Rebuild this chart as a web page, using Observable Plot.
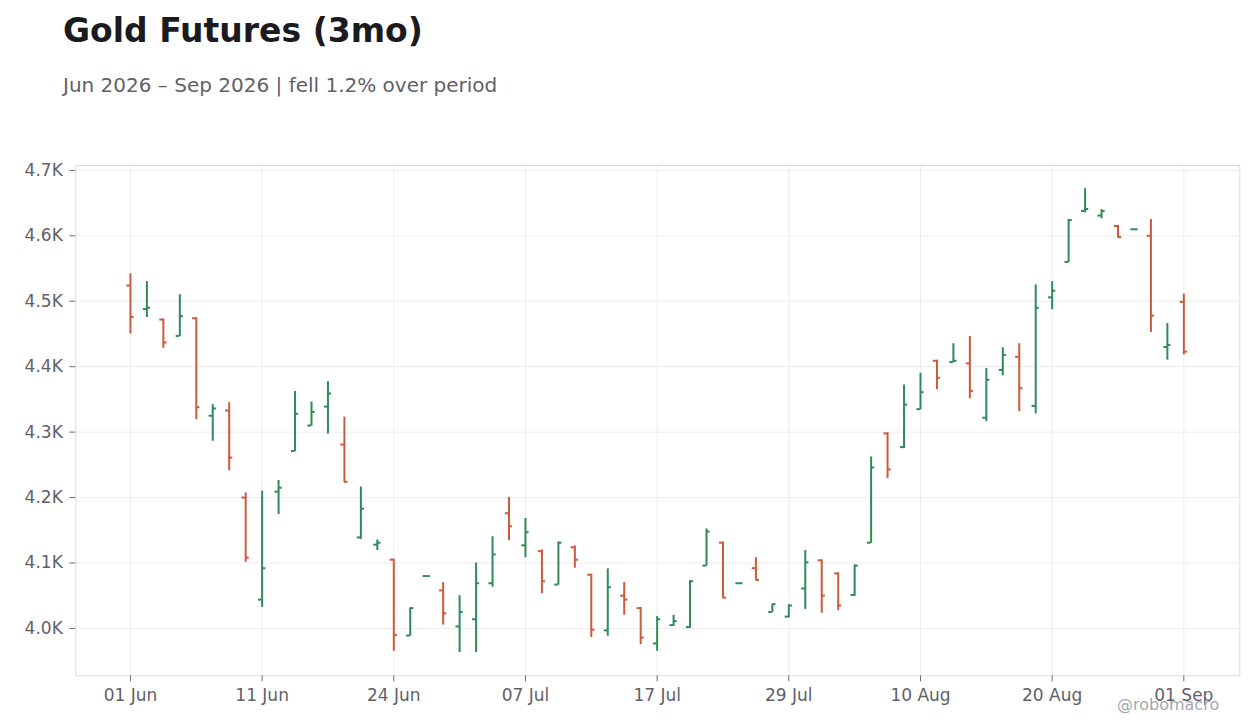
<!DOCTYPE html>
<html>
<head>
<meta charset="utf-8">
<script src="https://cdn.jsdelivr.net/npm/d3@7"></script>
<script src="https://cdn.jsdelivr.net/npm/@observablehq/plot@0.6"></script>
<style>
  html, body { margin: 0; padding: 0; background: #ffffff; }
  #wrap { position: relative; width: 1260px; height: 728px; overflow: hidden; background: #ffffff; font-family: "DejaVu Sans", sans-serif; }
  #title { position: absolute; left: 63px; top: 13.8px; font-size: 33px; line-height: 1; font-weight: bold; color: #1b1b1f; white-space: nowrap; }
  #subtitle { position: absolute; left: 63px; top: 75.4px; font-size: 20px; line-height: 1; color: #5f6169; white-space: nowrap; }
  #chart { position: absolute; left: 0; top: 120px; }
  #credit { position: absolute; left: 1117px; top: 696.5px; font-size: 16px; line-height: 1; color: #a6a7ad; white-space: nowrap; }
</style>
</head>
<body>
<div id="wrap">
  <div id="title">Gold Futures (3mo)</div>
  <div id="subtitle">Jun 2026 – Sep 2026 | fell 1.2% over period</div>
  <div id="chart"></div>
  <div id="credit">@robomacro</div>
</div>
<script>
// Trading days (one bar per day)
const dates = [
  "2026-06-01","2026-06-02","2026-06-03","2026-06-04","2026-06-05",
  "2026-06-08","2026-06-09","2026-06-10","2026-06-11","2026-06-12",
  "2026-06-15","2026-06-16","2026-06-17","2026-06-18","2026-06-22",
  "2026-06-23","2026-06-24","2026-06-25","2026-06-26","2026-06-29",
  "2026-06-30","2026-07-01","2026-07-02","2026-07-06","2026-07-07",
  "2026-07-08","2026-07-09","2026-07-10","2026-07-13","2026-07-14",
  "2026-07-15","2026-07-16","2026-07-17","2026-07-20","2026-07-21",
  "2026-07-22","2026-07-23","2026-07-24","2026-07-27","2026-07-28",
  "2026-07-29","2026-07-30","2026-07-31","2026-08-03","2026-08-04",
  "2026-08-05","2026-08-06","2026-08-07","2026-08-10","2026-08-11",
  "2026-08-12","2026-08-13","2026-08-14","2026-08-17","2026-08-18",
  "2026-08-19","2026-08-20","2026-08-21","2026-08-24","2026-08-25",
  "2026-08-26","2026-08-27","2026-08-28","2026-08-31","2026-09-01"
];
const open = [
  4524,4488,4472,4447,4474, 4325,4333,4200,4044,4209,
  4271,4310,4339,4281,4139, 4128,4105,3989,4080,4058,
  4003,4014,4069,4176,4127, 4118,4067,4124,4082,3997,
  4050,4031,3977,4005,4002, 4096,4131,4069,4092,4025,
  4018,4061,4104,4084,4051, 4131,4298,4277,4335,4409,
  4407,4405,4322,4395,4415, 4340,4506,4560,4638,4631,
  4615,4610,4600,4430,4499
];
const high = [
  4542,4530,4473,4510,4475, 4342,4345,4207,4210,4226,
  4362,4346,4377,4323,4216, 4135,4106,4031,4080,4070,
  4050,4100,4140,4200,4168, 4120,4132,4126,4083,4091,
  4070,4032,4018,4020,4073, 4152,4132,4069,4108,4037,
  4036,4119,4105,4085,4097, 4262,4299,4372,4390,4410,
  4435,4446,4397,4429,4435, 4525,4530,4625,4672,4640,
  4616,4610,4625,4466,4511
];
const low = [
  4450,4475,4428,4446,4319, 4286,4241,4101,4032,4174,
  4270,4309,4297,4223,4136, 4119,3965,3988,4080,4005,
  3963,3963,4063,4134,4108, 4053,4066,4092,3986,3988,
  4020,3975,3965,4003,4000, 4095,4046,4069,4074,4024,
  4016,4029,4023,4027,4049, 4130,4229,4275,4334,4365,
  4406,4351,4316,4386,4331, 4328,4487,4559,4635,4626,
  4597,4610,4452,4410,4418
];
const close = [
  4476,4490,4437,4477,4338, 4336,4261,4108,4092,4215,
  4328,4331,4359,4224,4183, 4131,3990,4031,4080,4023,
  4025,4069,4113,4156,4147, 4072,4131,4105,3998,4063,
  4044,3986,4014,4011,4072, 4148,4047,4069,4074,4037,
  4035,4101,4050,4035,4096, 4246,4243,4342,4361,4383,
  4409,4363,4380,4418,4367, 4490,4516,4624,4641,4638,
  4598,4610,4478,4433,4423
];
// x-axis ticks: every 8th trading day
const tickIndex = [0, 8, 16, 24, 32, 40, 48, 56, 64];
const tickLabels = ["01 Jun","11 Jun","24 Jun","07 Jul","17 Jul","29 Jul","10 Aug","20 Aug","01 Sep"];
const yTicks = [4000, 4100, 4200, 4300, 4400, 4500, 4600, 4700];

const UP = "#2e8b57";
const DOWN = "#cc5a3b";

const rows = dates.map((d, i) => ({
  i, date: d, open: open[i], high: high[i], low: low[i], close: close[i],
  color: close[i] >= open[i] ? UP : DOWN
}));

const lo = d3.min(low), hi = d3.max(high);
const pad = (hi - lo) * 0.05;
const TK = 0.22; // tick length in bar units

const chart = Plot.plot({
  width: 1260,
  height: 608,
  marginTop: 45,
  marginBottom: 52.7,
  marginLeft: 75.3,
  marginRight: 20.7,
  style: { fontFamily: "DejaVu Sans", fontSize: "17px", color: "#5f6169", background: "transparent", overflow: "visible" },
  x: { type: "linear", domain: [-3.32, 67.40] },
  y: { domain: [lo - pad, hi + pad] },
  marks: [
    Plot.gridX(tickIndex, { stroke: "#ededed", strokeOpacity: 1 }),
    Plot.gridY(yTicks, { stroke: "#ededed", strokeOpacity: 1 }),
    Plot.frame({ stroke: "#dcdcdc" }),
    Plot.axisX(tickIndex, {
      tickFormat: (v) => tickLabels[tickIndex.indexOf(v)],
      tickSize: 6, tickPadding: 7, label: null, stroke: "#6b6d74", fontSize: 17
    }),
    Plot.axisY(yTicks, {
      tickFormat: (v) => (v / 1000).toFixed(1) + "K",
      tickSize: 6, tickPadding: 7, label: null, stroke: "#6b6d74", fontSize: 17
    }),
    Plot.ruleX(rows, { x: "i", y1: "low", y2: "high", stroke: "color", strokeWidth: 2 }),
    Plot.ruleY(rows, { y: "open", x1: (d) => d.i - TK, x2: "i", stroke: "color", strokeWidth: 2 }),
    Plot.ruleY(rows, { y: "close", x1: "i", x2: (d) => d.i + TK, stroke: "color", strokeWidth: 2 })
  ]
});
document.getElementById("chart").appendChild(chart);
</script>
</body>
</html>
